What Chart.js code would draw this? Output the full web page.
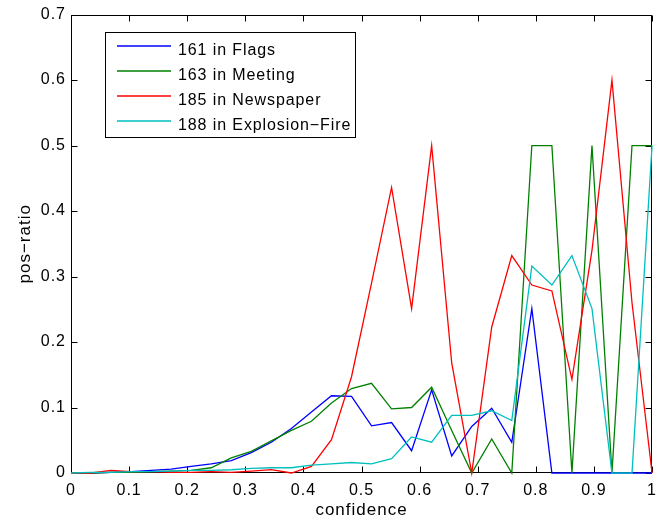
<!DOCTYPE html>
<html>
<head>
<meta charset="utf-8">
<script src="https://cdn.jsdelivr.net/npm/chart.js@4"></script>
<style>
  body { margin: 0; background: #fff; }
  canvas { display: block; }
</style>
</head>
<body>
<canvas id="chart" width="665" height="519"></canvas>
<script>
// confidence bins (x)
const confidence = [0, 0.0345, 0.0690, 0.1034, 0.1379, 0.1724, 0.2069, 0.2414, 0.2759, 0.3103,
  0.3448, 0.3793, 0.4138, 0.4483, 0.4828, 0.5172, 0.5517, 0.5862, 0.6207, 0.6552,
  0.6897, 0.7241, 0.7586, 0.7931, 0.8276, 0.8621, 0.8966, 0.9310, 0.9655, 1];

const flags = [0, 0, 0.001, 0.002, 0.004, 0.006, 0.010, 0.014, 0.019, 0.031,
  0.047, 0.068, 0.093, 0.118, 0.117, 0.072, 0.077, 0.034, 0.127, 0.026,
  0.071, 0.099, 0.047, 0.251, 0, 0, 0, 0, 0, 0];

const meeting = [0, 0, 0.001, 0.001, 0.002, 0.003, 0.004, 0.008, 0.023, 0.033,
  0.049, 0.065, 0.079, 0.107, 0.129, 0.137, 0.098, 0.100, 0.131, 0.065,
  0, 0.052, 0, 0.5, 0.5, 0, 0.5, 0, 0.5, 0.5];

const newspaper = [0, 0, 0.004, 0.002, 0.002, 0.001, 0.001, 0.002, 0.001, 0.003,
  0.005, 0, 0.010, 0.051, 0.147, 0.290, 0.436, 0.251, 0.500, 0.168,
  0, 0.223, 0.332, 0.287, 0.278, 0.143, 0.340, 0.600, 0.260, 0];

const explosion = [0, 0.001, 0.001, 0.002, 0.002, 0.003, 0.004, 0.004, 0.005, 0.007,
  0.008, 0.008, 0.012, 0.014, 0.016, 0.014, 0.022, 0.055, 0.047, 0.088,
  0.088, 0.095, 0.080, 0.316, 0.287, 0.332, 0.251, 0, 0, 0.5];

const seriesNames = ['161 in Flags', '163 in Meeting', '185 in Newspaper', '188 in Explosion\u2212Fire'];
const seriesColors = ['#0000ff', '#008000', '#ff0000', '#00bfbf'];
const xTicks = [0, 0.1, 0.2, 0.3, 0.4, 0.5, 0.6, 0.7, 0.8, 0.9, 1];
const yTicks = [0, 0.1, 0.2, 0.3, 0.4, 0.5, 0.6, 0.7];

const FONT = '"Liberation Sans", Arial, Helvetica, sans-serif';

const pts = vals => vals.map((v, i) => ({ x: confidence[i], y: v }));

// matlab text is a bit wider than liberation sans
const spacing = {
  id: 'spacing',
  afterInit(chart) { chart.ctx.letterSpacing = '1px'; },
  beforeLayout(chart) { chart.ctx.letterSpacing = '1px'; },
  beforeDraw(chart) { chart.ctx.letterSpacing = '1px'; }
};

// box, inward ticks (under the lines) and legend (on top) like a matlab figure
const matlabBox = {
  id: 'matlabBox',
  beforeDatasetsDraw(chart) {
    const { ctx, chartArea: a, scales: { x, y } } = chart;
    const L = Math.round(a.left) + 0.5, R = Math.round(a.right) - 0.5;
    const T = Math.round(a.top) + 0.5, B = Math.round(a.bottom) - 0.5;
    ctx.save();
    ctx.strokeStyle = '#000';
    ctx.lineWidth = 1;
    ctx.strokeRect(L, T, R - L, B - T);
    ctx.beginPath();
    xTicks.forEach(v => {
      const px = Math.round(x.getPixelForValue(v)) + 0.5;
      ctx.moveTo(px, B); ctx.lineTo(px, B - 6);
      ctx.moveTo(px, T); ctx.lineTo(px, T + 6);
    });
    yTicks.forEach(v => {
      const py = Math.round(y.getPixelForValue(v)) + 0.5;
      ctx.moveTo(L, py); ctx.lineTo(L + 6, py);
      ctx.moveTo(R, py); ctx.lineTo(R - 6, py);
    });
    ctx.stroke();
    ctx.restore();
  },
  afterDraw(chart) {
    const { ctx } = chart;
    ctx.save();
    ctx.strokeStyle = '#000';
    ctx.lineWidth = 1;
    ctx.fillStyle = '#fff';
    ctx.fillRect(105.5, 32.5, 250, 105);
    ctx.strokeRect(105.5, 32.5, 250, 105);
    ctx.font = '16px ' + FONT;
    ctx.letterSpacing = '0.9px';
    ctx.textBaseline = 'alphabetic';
    ctx.textAlign = 'left';
    chart.data.datasets.forEach((ds, i) => {
      const base = 55 + i * 25;
      ctx.strokeStyle = ds.borderColor;
      ctx.lineWidth = 1.3;
      ctx.beginPath();
      ctx.moveTo(117, base - 9);
      ctx.lineTo(171, base - 9);
      ctx.stroke();
      ctx.fillStyle = '#000';
      ctx.fillText(ds.label, 178, base);
    });
    ctx.restore();
  }
};

const datasets = [flags, meeting, newspaper, explosion].map((vals, i) => ({
  label: seriesNames[i],
  data: pts(vals),
  borderColor: seriesColors[i],
  backgroundColor: seriesColors[i],
  borderWidth: 1.3,
  pointRadius: 0,
  tension: 0,
  fill: false,
  clip: 4,
  order: 3 - i
}));

new Chart(document.getElementById('chart'), {
  type: 'line',
  data: { datasets },
  options: {
    responsive: false,
    animation: false,
    events: [],
    layout: { padding: { left: 0, right: 12, top: 14, bottom: 0 } },
    plugins: { legend: { display: false }, tooltip: { enabled: false } },
    scales: {
      x: {
        type: 'linear',
        min: 0, max: 1,
        afterFit: s => { s.height = 46; },
        afterBuildTicks: s => { s.ticks = xTicks.map(v => ({ value: v })); },
        grid: { display: false, drawTicks: false, tickLength: 0 },
        border: { display: false },
        ticks: {
          color: '#000', padding: 8, maxRotation: 0, autoSkip: false,
          font: { family: FONT, size: 16 },
          callback: v => String(+v.toFixed(1))
        },
        title: {
          display: true, text: 'confidence', color: '#000',
          font: { family: FONT, size: 17 }, padding: { top: 0, bottom: -2 }
        }
      },
      y: {
        min: 0, max: 0.7,
        afterFit: s => { s.width = 71; },
        afterBuildTicks: s => { s.ticks = yTicks.map(v => ({ value: v })); },
        grid: { display: false, drawTicks: false, tickLength: 0 },
        border: { display: false },
        ticks: {
          color: '#000', padding: 5, autoSkip: false,
          font: { family: FONT, size: 16 },
          callback: v => String(+v.toFixed(1))
        },
        title: {
          display: true, text: 'pos\u2212ratio', color: '#000',
          font: { family: FONT, size: 17 }, padding: { top: 15, bottom: 0 }
        }
      }
    }
  },
  plugins: [spacing, matlabBox]
});
</script>
</body>
</html>
